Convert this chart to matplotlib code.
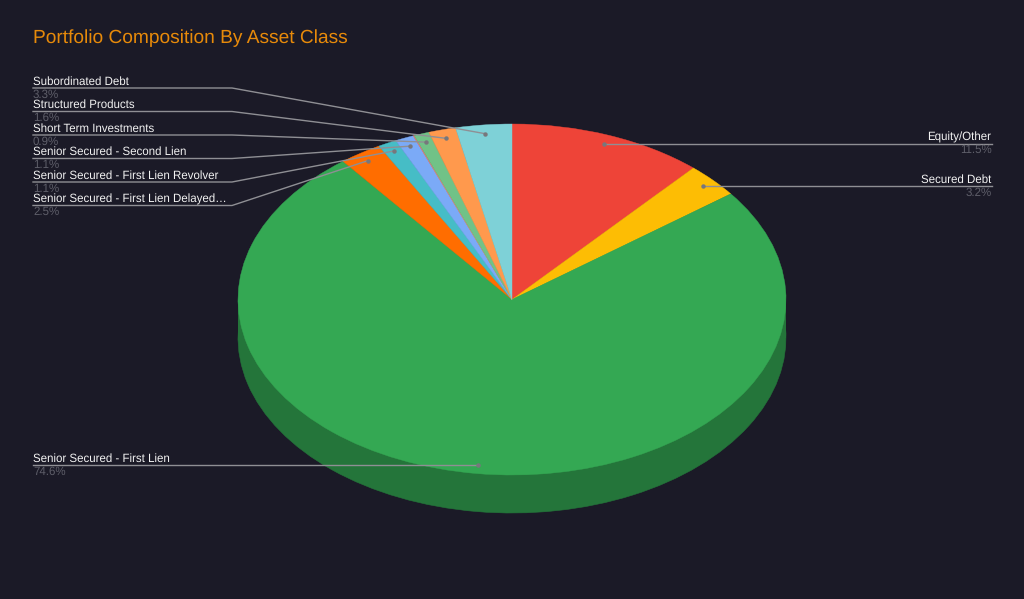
import numpy as np
import matplotlib
matplotlib.use("Agg")
import matplotlib.pyplot as plt
from matplotlib.patches import Rectangle

title = "Portfolio Composition By Asset Class"
categories = ["Equity/Other", "Secured Debt", "Senior Secured - First Lien",
              "Senior Secured - First Lien Delayed…", "Senior Secured - First Lien Revolver",
              "Senior Secured - Second Lien", "Other", "Short Term Investments",
              "Structured Products", "Subordinated Debt"]
values = [11.5, 3.2, 74.6, 2.5, 1.1, 1.1, 0.06, 0.9, 1.6, 3.3]
colors = ["#ee4438", "#fdbd04", "#34a853", "#ff6d00", "#46bdc6", "#7baaf7",
          "#f07b72", "#71c287", "#ff994d", "#7ed1d7"]
side_color = "#24753a"
hidden_labels = {"Other"}

W, H = 1024, 599
BG = "#1b1a27"
CX, CY, RX, RY, DEPTH = 512, 299.5, 274, 175.5, 38
plt.rcParams["font.family"] = ["Liberation Sans", "DejaVu Sans"]
plt.rcParams["text.hinting"] = "no_hinting"
plt.rcParams["text.hinting_factor"] = 8

fig = plt.figure(figsize=(W / 100, H / 100), dpi=100, facecolor=BG)

# pie axes: data unit = one radius horizontally and vertically (ellipse)
ax = fig.add_axes([(CX - RX) / W, 1 - (CY + RY + DEPTH) / H, 2 * RX / W, (2 * RY + DEPTH) / H])
d = DEPTH / RY
ax.pie(values, colors=[side_color] * len(values), startangle=90, counterclock=False, center=(0, -d),
       radius=1, wedgeprops=dict(linewidth=0.4, edgecolor=side_color), frame=True)
ax.add_patch(Rectangle((-1, -d), 2, d, facecolor=side_color, linewidth=0, zorder=1.5))
wedges, _ = ax.pie(values, colors=colors, startangle=90, counterclock=False, center=(0, 0), radius=1,
                   wedgeprops=dict(linewidth=0, zorder=2), frame=True)
for w, col in zip(wedges, colors):
    w.set_edgecolor(col)
    w.set_linewidth(0.3)
ax.set_aspect("auto")
ax.set_xlim(-1, 1)
ax.set_ylim(-1 - d, 1)
ax.axis("off")

# overlay in pixel coordinates for labels
ov = fig.add_axes([0, 0, 1, 1], facecolor="none")
ov.set_xlim(0, W)
ov.set_ylim(H, 0)
ov.axis("off")

ov.text(33, 38, title, color="#e78a0a", fontsize=13.8, va="center", ha="left")

total = sum(values)
cum = np.cumsum([0] + values[:-1])
mids = {c: (s + v / 2) / total * 2 * np.pi for c, s, v in zip(categories, cum, values)}
pct = dict(zip(categories, values))

LINE = "#8f8f94"
DOT = "#77777c"
TXT = "#f2f2f2"
PCT = "#5e5e69"
FS = 8.3
left_rows = {"Subordinated Debt": 88, "Structured Products": 111.5, "Short Term Investments": 135,
             "Senior Secured - Second Lien": 158.5, "Senior Secured - First Lien Revolver": 182,
             "Senior Secured - First Lien Delayed…": 205.5}
R_DOT = 0.95
for c in categories:
    if c in hidden_labels:
        continue
    x = CX + R_DOT * RX * np.sin(mids[c])
    y = CY - R_DOT * RY * np.cos(mids[c])
    if c in left_rows:
        yl = left_rows[c]
        ov.plot([33, 232, x], [yl, yl, y], color=LINE, lw=1, zorder=5)
        xt, ha = 33, "left"
    elif c == "Senior Secured - First Lien":
        yl = y
        ov.plot([33, x], [yl, yl], color=LINE, lw=1, zorder=5)
        xt, ha = 33, "left"
    else:
        yl = y
        ov.plot([x, 992], [yl, yl], color=LINE, lw=1, zorder=5)
        xt, ha = 991.5, "right"
    ov.plot([x], [y], "o", color=DOT, ms=3.2, mew=0, zorder=6)
    ov.text(xt, yl - 6.5, c, color=TXT, fontsize=FS, ha=ha, va="center", zorder=7)
    ov.text(xt, yl + 6.5, f"{pct[c]}%", color=PCT, fontsize=FS, ha=ha, va="center", zorder=7)

fig.savefig("out.png", dpi=100, facecolor=BG)
